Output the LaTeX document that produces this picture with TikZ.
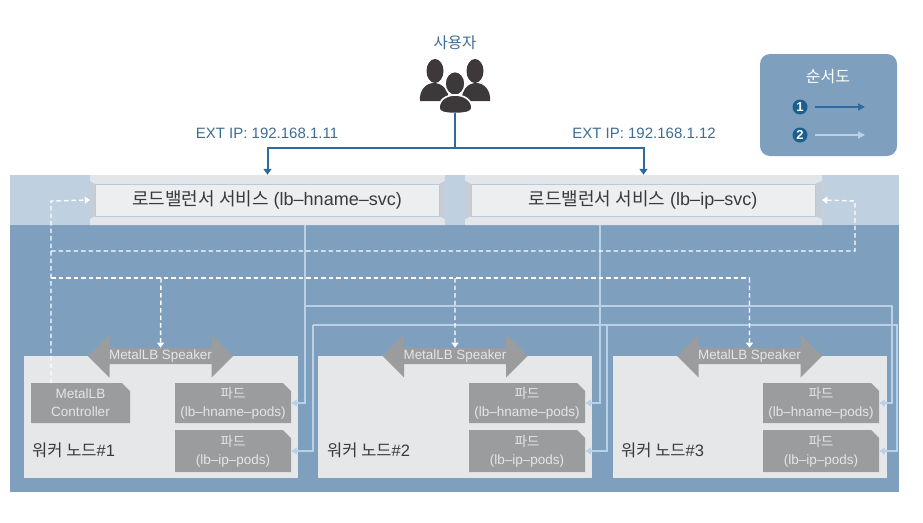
\documentclass[tikz,border=0pt]{standalone}
\usepackage{fontspec}
\setmainfont{Liberation Sans}
\newfontfamily\kr{Noto Sans CJK KR}
\usetikzlibrary{arrows.meta,shapes.misc,shapes.arrows}
\definecolor{bgdark}{HTML}{7F9FBF}
\definecolor{bglight}{HTML}{BFD0E0}
\definecolor{bevel}{HTML}{E3E5E9}
\definecolor{bevelside}{HTML}{C5CDD7}
\definecolor{lbface}{HTML}{EDEEF0}
\definecolor{lbedge}{HTML}{B7CBDE}
\definecolor{workerc}{HTML}{E6E7E9}
\definecolor{podc}{HTML}{9B9C9D}
\definecolor{podtext}{HTML}{E4E5E6}
\definecolor{linelight}{HTML}{B9D0E6}
\definecolor{linedark}{HTML}{2F6A9C}
\definecolor{labelblue}{HTML}{3F6C92}
\definecolor{darktext}{HTML}{3A3A3A}
\definecolor{iconc}{HTML}{3D383A}
\definecolor{badge}{HTML}{1B5F8C}
\tikzset{
  x=1pt,y=-1pt,
  lbouter/.style={chamfered rectangle,chamfered rectangle xsep=5pt,chamfered rectangle ysep=6pt,
    fill=bevel,minimum width=355pt,minimum height=50pt,inner sep=0pt},
  lbinner/.style={draw=lbedge,line width=1pt,fill=lbface,minimum height=32pt,inner sep=0pt,
    text=darktext,font=\fontsize{18}{20}\selectfont},
  worker/.style={fill=workerc,minimum width=274pt,minimum height=122pt,inner sep=0pt},
  pod/.style={chamfered rectangle,chamfered rectangle corners=north east,
    chamfered rectangle xsep=4pt,chamfered rectangle ysep=4pt,
    fill=podc,text=podtext,minimum width=116pt,inner sep=0pt,align=center,
    font=\fontsize{13.5}{18}\selectfont},
  speaker/.style={double arrow,double arrow head extend=10.5pt,fill=podc,text=podtext,
    minimum width=43pt,minimum height=145pt,inner sep=0pt,font=\fontsize{13.4}{14}\selectfont},
  wlabel/.style={anchor=west,inner sep=0pt,text=darktext,font=\fontsize{16.5}{18}\selectfont},
  extlabel/.style={inner sep=0pt,text=labelblue,font=\fontsize{15}{16}\selectfont},
  svc/.style={draw=linelight,line width=1.4pt,-{Triangle[length=6pt,width=7pt]}},
  dashline/.style={draw=white,line width=1.4pt,dash pattern=on 4.5pt off 3pt},
  dasharrow/.style={dashline,-{Triangle[length=5pt,width=7pt,fill=white]}},
  userline/.style={draw=linedark,line width=2pt},
  userarrow/.style={userline,-{Triangle[length=6pt,width=8pt]}},
  num/.style={circle,fill=badge,text=white,minimum size=15pt,inner sep=0pt,font=\fontsize{13}{13}\selectfont\bfseries},
}
\begin{document}
\begin{tikzpicture}
\useasboundingbox (0,0) rectangle (923,522);
% backgrounds
\fill[bgdark] (10,175) rectangle (899,492);
\fill[bglight] (10,175) rectangle (899,225);
% load balancers
\node[lbouter,minimum width=355pt] (lb1) at (267.5,200) {};
\node[lbouter,minimum width=357pt] (lb2) at (643.5,200) {};
\fill[bevelside] (90,181) -- (95,184) -- (95,216) -- (90,219) -- cycle;
\fill[bevelside] (445,181) -- (439,184) -- (439,216) -- (445,219) -- cycle;
\fill[bevelside] (465,181) -- (471,184) -- (471,216) -- (465,219) -- cycle;
\fill[bevelside] (822,181) -- (815,184) -- (815,216) -- (822,219) -- cycle;
\node[lbinner,minimum width=344pt] (lb1t) at (267,200) {{\kr 로드밸런서 서비스} (lb–hname–svc)};
\node[lbinner,minimum width=344pt] (lb2t) at (643,200) {{\kr 로드밸런서 서비스} (lb–ip–svc)};
% workers
\node[worker] (w1) at (161,417) {};
\node[worker] (w2) at (455,417) {};
\node[worker] (w3) at (750,417) {};
\node[wlabel] (w1l) at (32,450) {{\kr 워커 노드}\#1};
\node[wlabel] (w2l) at (327,450) {{\kr 워커 노드}\#2};
\node[wlabel] (w3l) at (621,450) {{\kr 워커 노드}\#3};
% named bends
\coordinate (s1) at (305,225);
\coordinate (s2) at (600,225);
\coordinate (j1) at (305,306);
\coordinate (c1) at (892,306);
\coordinate (c2) at (313,325);
\coordinate (c3) at (897,325);
\coordinate (c4) at (607,325);
\coordinate (ctl) at (51,383);
\coordinate (d1) at (51,251);
\coordinate (d2) at (855,251);
\coordinate (d3) at (51,278);
\coordinate (d4) at (161,278);
\coordinate (d5) at (455,278);
\coordinate (d6) at (749.5,278);
\coordinate (dl) at (51,201);
\coordinate (dr) at (855,201);
\coordinate (user) at (455,113);
\coordinate (hub) at (455,147.5);
% pods
\node[pod,minimum width=99pt,minimum height=40pt] (ctrl) at (80.5,403) {MetalLB\\Controller};
\node[pod,minimum height=40pt] (p1h) at (233,403) {{\kr 파드}\\(lb–hname–pods)};
\node[pod,minimum height=42pt] (p1i) at (233,451) {{\kr 파드}\\(lb–ip–pods)};
\node[pod,minimum height=40pt] (p2h) at (527,403) {{\kr 파드}\\(lb–hname–pods)};
\node[pod,minimum height=42pt] (p2i) at (527,451) {{\kr 파드}\\(lb–ip–pods)};
\node[pod,minimum height=40pt] (p3h) at (821,403) {{\kr 파드}\\(lb–hname–pods)};
\node[pod,minimum height=42pt] (p3i) at (821,451) {{\kr 파드}\\(lb–ip–pods)};
% speakers
\node[speaker] (sp1) at (160.5,356) {MetalLB Speaker};
\node[speaker] (sp2) at (455,356) {MetalLB Speaker};
\node[speaker] (sp3) at (749.5,356) {MetalLB Speaker};
% solid service lines
\draw[svc] (s1) |- (p1h.east);
\draw[svc] (s2) |- (p2h.east);
\draw[svc] (j1) -- (c1) |- (p3h.east);
\draw[svc] (c2) |- (p1i.east);
\draw[svc] (c4) |- (p2i.east);
\draw[svc] (c2) -- (c3) |- (p3i.east);
% dashed lines
\draw[dasharrow] (ctl) -- (dl) -- (lb1.west);
\draw[dasharrow] (d1) -- (d2) -- (dr) -- (lb2.east);
\draw[dashline] (d3) -- (d6);
\draw[dasharrow] (d4) -- (sp1.north);
\draw[dasharrow] (d5) -- (sp2.north);
\draw[dasharrow] (d6) -- (sp3.north);
% user icon
\fill[iconc] (435,71) ellipse [x radius=8.5,y radius=12];
\fill[iconc] (475,71) ellipse [x radius=8.5,y radius=12];
\fill[iconc] (420,101) .. controls (419,90) and (426,83) .. (434,83) .. controls (442,83) and (449,90) .. (449,101) -- cycle;
\fill[iconc] (462,101) .. controls (461,90) and (468,83) .. (476,83) .. controls (484,83) and (491,90) .. (490,101) -- cycle;
\filldraw[iconc,draw=white,line width=1.6pt] (455,83.5) ellipse [x radius=10,y radius=12];
\filldraw[iconc,draw=white,line width=1.6pt] (439,108) .. controls (439,100) and (446,95) .. (455,95) .. controls (464,95) and (472,100) .. (472,108) .. controls (472,112) and (466,113.5) .. (455,113.5) .. controls (444,113.5) and (439,112) .. (439,108) -- cycle;
\node[extlabel,font=\fontsize{15.5}{16}\selectfont\kr] (ulabel) at (455,43) {사용자};
\draw[userline] (user) -- (hub);
\draw[userarrow] (hub) -| (lb1.north);
\draw[userarrow] (hub) -| (lb2.north);
\node[extlabel] (ip1) at (267,133) {EXT IP: 192.168.1.11};
\node[extlabel] (ip2) at (644,133) {EXT IP: 192.168.1.12};
% legend
\node[fill=bgdark,rounded corners=10pt,minimum width=137pt,minimum height=102pt,inner sep=0pt] (leg) at (828.5,105) {};
\node[inner sep=0pt,text=white,font=\fontsize{16}{16}\selectfont\kr] (legt) at (828,77) {순서도};
\node[num] (n1) at (800,107) {1};
\node[num] (n2) at (800,135) {2};
\coordinate (e1) at (865,107);
\coordinate (e2) at (865,135);
\draw[draw=linedark,line width=1.3pt,-{Triangle[length=7pt,width=7pt]},shorten <=8pt] (n1.center) ++(7,0) -- (e1);
\draw[draw=linelight,line width=1.3pt,-{Triangle[length=7pt,width=7pt]},shorten <=8pt] (n2.center) ++(7,0) -- (e2);
\end{tikzpicture}
\end{document}
